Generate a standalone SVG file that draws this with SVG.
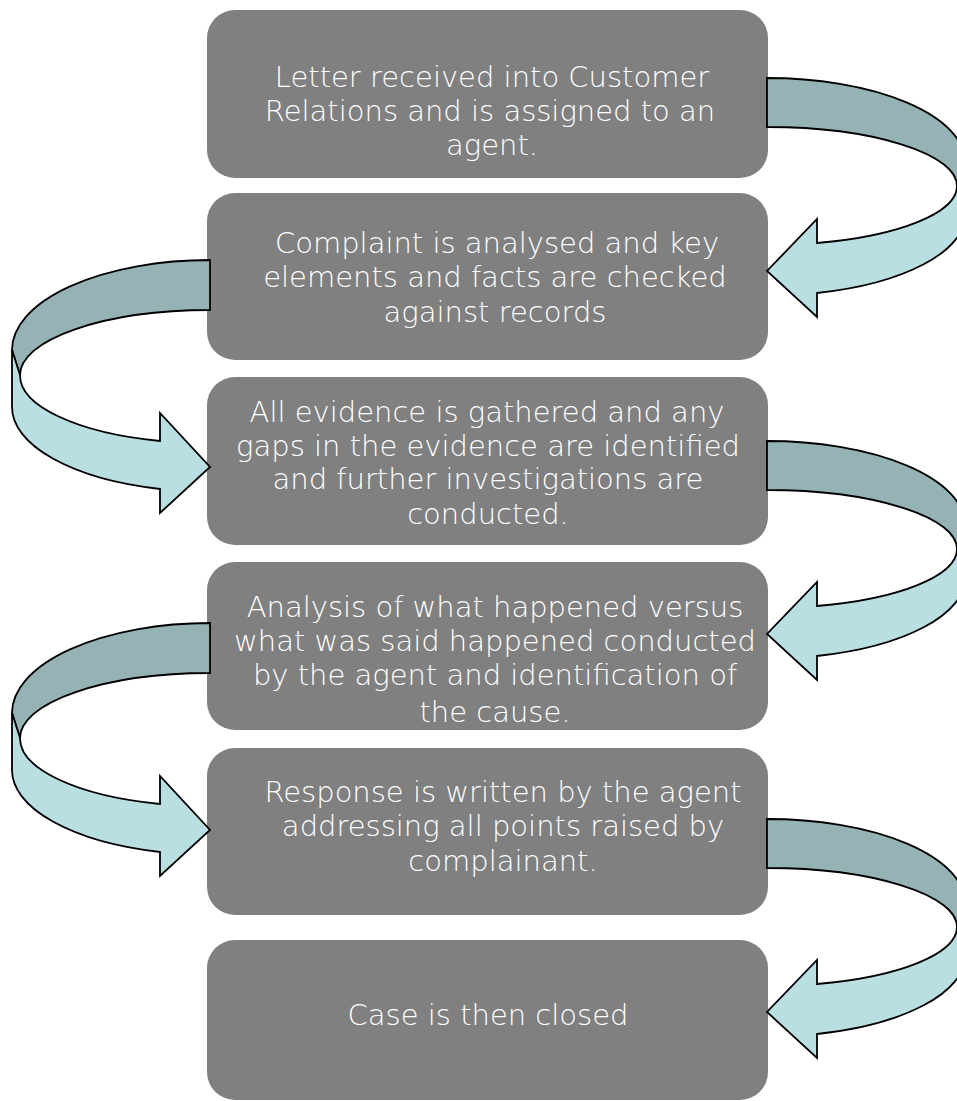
<svg xmlns="http://www.w3.org/2000/svg" width="957" height="1101" viewBox="0 0 957 1101">
<style>
.box{fill:#808080;}
.t{font-family:"DejaVu Sans","Liberation Sans",sans-serif;font-size:29px;font-weight:300;fill:#ffffff;text-anchor:middle;}
.back{fill:#95B3B5;stroke:#000;stroke-width:1.8;stroke-linejoin:miter;}
.front{fill:#BADFE2;stroke:#000;stroke-width:1.8;stroke-linejoin:miter;}
</style>
<rect width="957" height="1101" fill="#ffffff"/>
<g id="node1"><rect class="box" x="207" y="10" width="561" height="168" rx="28"/>
<text class="t" x="492" y="87">Letter received into Customer</text>
<text class="t" x="490" y="121">Relations and is assigned to an</text>
<text class="t" x="492" y="155">agent.</text></g>
<g id="node2"><rect class="box" x="207" y="193" width="561" height="167" rx="28"/>
<text class="t" x="497" y="253">Complaint is analysed and key</text>
<text class="t" x="495" y="287">elements and facts are checked</text>
<text class="t" x="495" y="322">against records</text></g>
<g id="node3"><rect class="box" x="207" y="377" width="561" height="168" rx="28"/>
<text class="t" x="487" y="422">All evidence is gathered and any</text>
<text class="t" x="488" y="456">gaps in the evidence are identified</text>
<text class="t" x="488" y="489">and further investigations are</text>
<text class="t" x="488" y="524">conducted.</text></g>
<g id="node4"><rect class="box" x="207" y="562" width="561" height="168" rx="28"/>
<text class="t" x="495" y="617">Analysis of what happened versus</text>
<text class="t" x="495" y="651">what was said happened conducted</text>
<text class="t" x="495" y="685">by the agent and identification of</text>
<text class="t" x="495" y="722">the cause.</text></g>
<g id="node5"><rect class="box" x="207" y="748" width="561" height="167" rx="28"/>
<text class="t" x="503" y="802">Response is written by the agent</text>
<text class="t" x="503" y="836">addressing all points raised by</text>
<text class="t" x="503" y="871">complainant.</text></g>
<g id="node6"><rect class="box" x="207" y="940" width="561" height="160" rx="28"/>
<text class="t" x="488" y="1025">Case is then closed</text></g>
<g id="connectors">
<g id="arrow1">
<path class="back" d="M767,78 A198,84 0 0 1 965,162 L957,186 A190,59 0 0 0 767,127 Z"/>
<path class="front" d="M965,162 L957,186 A190,59 0 0 1 817,243 L817,219 L767,271 L817,317 L817,293 A198,80.6 0 0 0 965,215 Z"/>
</g>
<g id="arrow2">
<path class="back" d="M210,260 A198,90 0 0 0 12,350 L20,375 A190,65 0 0 1 210,310 Z"/>
<path class="front" d="M12,350 L20,375 A190,68 0 0 0 160,441 L160,413 L210,467 L160,513 L160,489 A198,84.7 0 0 1 12,407 Z"/>
</g>
<g id="arrow3">
<path class="back" d="M767,441 A198,84 0 0 1 965,525 L957,549 A190,59 0 0 0 767,490 Z"/>
<path class="front" d="M965,525 L957,549 A190,59 0 0 1 817,606 L817,582 L767,634 L817,680 L817,656 A198,80.6 0 0 0 965,578 Z"/>
</g>
<g id="arrow4">
<path class="back" d="M210,623 A198,90 0 0 0 12,713 L20,738 A190,65 0 0 1 210,673 Z"/>
<path class="front" d="M12,713 L20,738 A190,68 0 0 0 160,804 L160,776 L210,830 L160,876 L160,852 A198,84.7 0 0 1 12,770 Z"/>
</g>
<g id="arrow5">
<path class="back" d="M767,819 A198,84 0 0 1 965,903 L957,927 A190,59 0 0 0 767,868 Z"/>
<path class="front" d="M965,903 L957,927 A190,59 0 0 1 817,984 L817,960 L767,1012 L817,1058 L817,1034 A198,80.6 0 0 0 965,956 Z"/>
</g>
</g>
</svg>
